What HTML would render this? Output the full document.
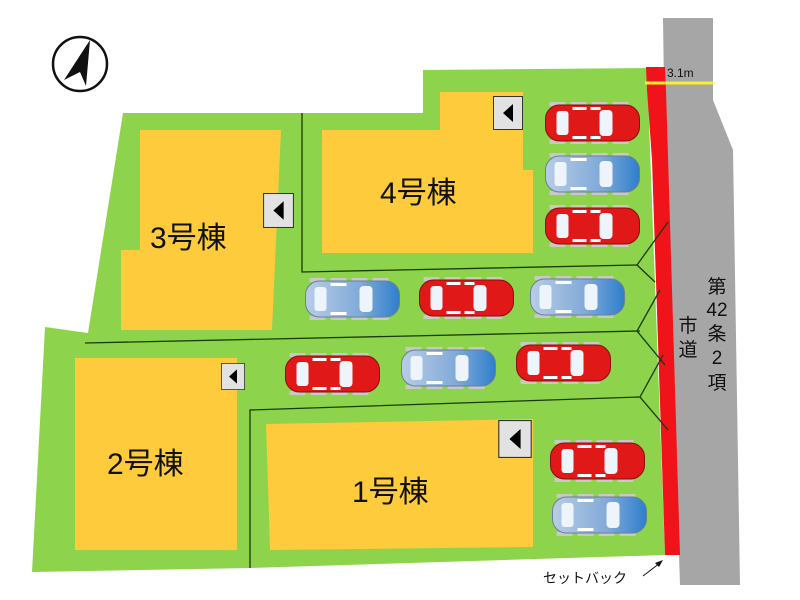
<!DOCTYPE html>
<html><head><meta charset="utf-8"><style>
html,body{margin:0;padding:0;background:#fff;}
svg{display:block}
text{font-family:"Liberation Sans","Noto Sans CJK JP",sans-serif;fill:#111}
</style></head><body>
<svg width="800" height="600" viewBox="0 0 800 600" xmlns="http://www.w3.org/2000/svg">
<defs>
<linearGradient id="bl" x1="0" x2="1"><stop offset="0" stop-color="#b8cde6"/><stop offset="0.6" stop-color="#7fa9d8"/><stop offset="1" stop-color="#2d7fcc"/></linearGradient>
<symbol id="redcar" viewBox="0 0 96 42">
<g fill="#c8c8c8"><rect x="5" y="0" width="16" height="4"/><rect x="26" y="0" width="16" height="4"/><rect x="47" y="0" width="16" height="4"/><rect x="68" y="0" width="16" height="4"/><rect x="5" y="38" width="16" height="4"/><rect x="26" y="38" width="16" height="4"/><rect x="47" y="38" width="16" height="4"/><rect x="68" y="38" width="16" height="4"/></g>
<rect x="1" y="3" width="94" height="36" rx="14" fill="#e01818" stroke="#8a0c0c" stroke-width="1"/>
<rect x="12" y="9" width="12" height="24" rx="3" fill="#eef4fb"/>
<rect x="55" y="8" width="13" height="26" rx="4" fill="#eef4fb"/>
<rect x="28" y="5" width="14" height="3" fill="#fff"/><rect x="28" y="34" width="14" height="3" fill="#fff"/>
<rect x="46" y="5" width="10" height="3" fill="#fff"/><rect x="46" y="34" width="10" height="3" fill="#fff"/>
</symbol>
<symbol id="bluecar" viewBox="0 0 96 42">
<g fill="#c8c8c8"><rect x="5" y="0" width="16" height="4"/><rect x="26" y="0" width="16" height="4"/><rect x="47" y="0" width="16" height="4"/><rect x="68" y="0" width="16" height="4"/><rect x="5" y="38" width="16" height="4"/><rect x="26" y="38" width="16" height="4"/><rect x="47" y="38" width="16" height="4"/><rect x="68" y="38" width="16" height="4"/></g>
<rect x="1" y="3" width="94" height="36" rx="14" fill="url(#bl)" stroke="#6a7f99" stroke-width="1"/>
<rect x="10" y="9" width="12" height="24" rx="3" fill="#eef4fb"/>
<rect x="55" y="8" width="13" height="26" rx="4" fill="#eef4fb"/>
<rect x="26" y="5" width="16" height="3" fill="#fff"/><rect x="26" y="34" width="16" height="3" fill="#fff"/>
</symbol>
<symbol id="arr" viewBox="0 0 30 34">
<rect x="0.5" y="0.5" width="29" height="33" fill="#e2e2e2" stroke="#333" stroke-width="1"/>
<polygon points="10,17 20,8 20,26" fill="#000"/>
</symbol>
</defs>

<!-- road -->
<polygon points="663,18 713,18 713,100 733,150 740,585 680,585 664,90" fill="#a6a6a6"/>
<!-- green land -->
<polygon points="123,113 423,113 423,70 647,68 665,555 250,568 32,572 45,327 88,333" fill="#8dd34c"/>
<!-- red setback -->
<polygon points="646,67 665,67 666,90 680,555 665,555 652,160 647,90" fill="#f0141a"/>
<line x1="645" y1="83" x2="713" y2="83" stroke="#f7ef2a" stroke-width="3"/>
<text x="667" y="77" font-size="12">3.1m</text>

<!-- buildings -->
<polygon points="140,130 281,130 272,330 121,330 121,250 140,250" fill="#fdcb3c"/>
<polygon points="440,92 523,92 523,170 533,170 533,253 322,253 322,130 440,130" fill="#fdcb3c"/>
<rect x="75" y="358" width="162" height="192" fill="#fdcb3c"/>
<polygon points="266,424 533,419 533,547 270,550" fill="#fdcb3c"/>

<!-- lot lines -->
<g stroke="#1a3a0a" stroke-width="1.3" fill="none">
<polyline points="302,113 302,272 637,265"/>
<polyline points="85,343 640,331"/>
<polyline points="250,568 250,410 640,397"/>
<polyline points="668,222 637,265 655,282"/>
<polyline points="660,290 637,331 665,365"/>
<polyline points="663,355 640,397 668,430"/>
</g>

<!-- arrow boxes -->
<use href="#arr" x="263" y="193" width="31" height="35"/>
<use href="#arr" x="493" y="95" width="30" height="36"/>
<use href="#arr" x="218" y="363" width="30" height="27"/>
<use href="#arr" x="498" y="420" width="34" height="38"/>

<!-- cars -->
<use href="#redcar" x="544" y="102" width="97" height="42"/>
<use href="#bluecar" x="544" y="153" width="97" height="42"/>
<use href="#redcar" x="544" y="205" width="97" height="42"/>
<use href="#bluecar" x="304" y="278" width="97" height="42"/>
<use href="#redcar" x="418" y="277" width="97" height="42"/>
<use href="#bluecar" x="529" y="276" width="97" height="42"/>
<use href="#redcar" x="284" y="353" width="97" height="42"/>
<use href="#bluecar" x="400" y="347" width="97" height="42"/>
<use href="#redcar" x="515" y="342" width="97" height="42"/>
<use href="#redcar" x="549" y="440" width="97" height="42"/>
<use href="#bluecar" x="551" y="494" width="97" height="42"/>

<!-- labels -->
<text x="150" y="248" font-size="30">3号棟</text>
<text x="380" y="203" font-size="30">4号棟</text>
<text x="107" y="474" font-size="30">2号棟</text>
<text x="352" y="502" font-size="30">1号棟</text>
<g font-size="19" text-anchor="middle">
<text x="717" y="293">第</text><text x="717" y="316">42</text><text x="717" y="340">条</text><text x="717" y="364">2</text><text x="717" y="389">項</text>
<text x="688" y="332">市</text><text x="688" y="356">道</text>
</g>
<text x="543" y="583" font-size="14">セットバック</text>
<line x1="643" y1="576" x2="660" y2="563" stroke="#111" stroke-width="1"/>
<polygon points="663,560 655,563 659,567" fill="#111"/>

<!-- compass -->
<circle cx="80" cy="64" r="27" fill="#fff" stroke="#111" stroke-width="2.5"/>
<polygon points="90,40 64,80 80,72 86,86" fill="#111"/>
</svg>
</body></html>
